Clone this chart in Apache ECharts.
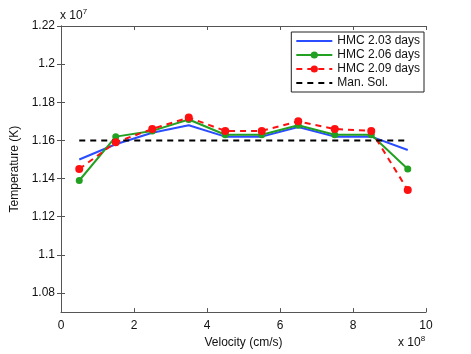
<!DOCTYPE html>
<html>
<head>
<meta charset="utf-8">
<script src="https://cdn.jsdelivr.net/npm/echarts@6/dist/echarts.min.js"></script>
<style>
  html, body { margin: 0; padding: 0; background: #fff; }
  #chart { width: 471px; height: 354px; }
</style>
</head>
<body>
<div id="chart"></div>
<script>
  // velocity in units of 1e8 cm/s, temperature in units of 1e7 K
  const velocity = [0.5, 1.5, 2.5, 3.5, 4.5, 5.5, 6.5, 7.5, 8.5, 9.5]
  const hmc203 = [1.150, 1.158, 1.164, 1.168, 1.162, 1.162, 1.167, 1.162, 1.162, 1.155]
  const hmc206 = [1.139, 1.162, 1.165, 1.171, 1.163, 1.163, 1.168, 1.163, 1.163, 1.145]
  const hmc209 = [1.145, 1.159, 1.166, 1.172, 1.165, 1.165, 1.170, 1.166, 1.165, 1.134]
  const manSol = [1.16, 1.16]
  const manSolX = [0.5, 9.5]
  const yTicks = [1.08, 1.1, 1.12, 1.14, 1.16, 1.18, 1.2, 1.22]

  const font = 'Liberation Sans, Arial, sans-serif'
  const axisColor = '#555'

  function pairs(xs, ys) {
    return xs.map((x, i) => [x, ys[i]])
  }

  let myChart = echarts.init(document.getElementById('chart'))
  myChart.setOption({
    animation: false,
    textStyle: { fontFamily: font },
    grid: { left: 61, right: 45, top: 26, bottom: 41, show: false },
    legend: {
      right: 47,
      top: 32,
      orient: 'vertical',
      backgroundColor: '#fff',
      borderColor: '#222',
      borderWidth: 1,
      borderRadius: 0,
      padding: [3, 4, 3, 4],
      itemGap: 2,
      itemWidth: 36,
      itemHeight: 9,
      textStyle: { fontSize: 12, color: '#111', fontFamily: font },
      data: [
        { name: 'HMC 2.03 days', itemStyle: { opacity: 0 } },
        { name: 'HMC 2.06 days' },
        { name: 'HMC 2.09 days' },
        { name: 'Man. Sol.', itemStyle: { opacity: 0 } }
      ]
    },
    xAxis: [{
      type: 'value',
      min: 0,
      max: 10,
      interval: 2,
      name: 'Velocity (cm/s)',
      nameLocation: 'middle',
      nameGap: 19,
      nameTextStyle: { fontSize: 12, color: '#111' },
      axisLine: { show: true, lineStyle: { color: axisColor } },
      axisTick: { show: true, inside: true, length: 4, lineStyle: { color: axisColor } },
      axisLabel: { fontSize: 12, color: '#111', margin: 8 },
      splitLine: { show: false }
    }, {
      type: 'value',
      position: 'top',
      min: 0,
      max: 10,
      interval: 2,
      axisLine: { show: true, lineStyle: { color: axisColor } },
      axisTick: { show: true, inside: true, length: 4, lineStyle: { color: axisColor } },
      axisLabel: { show: false },
      splitLine: { show: false }
    }],
    yAxis: [{
      type: 'value',
      min: 1.07,
      max: 1.22,
      name: 'Temperature (K)',
      nameLocation: 'middle',
      nameGap: 31,
      nameTextStyle: { fontSize: 12, color: '#111' },
      axisLine: { show: true, lineStyle: { color: axisColor } },
      axisTick: { show: true, inside: true, length: 4, customValues: yTicks, lineStyle: { color: axisColor } },
      axisLabel: {
        fontSize: 12, color: '#111', margin: 6, customValues: yTicks,
        formatter: function(v) { return String(parseFloat(v.toFixed(2))) }
      },
      splitLine: { show: false }
    }, {
      type: 'value',
      position: 'right',
      min: 1.07,
      max: 1.22,
      axisLine: { show: true, lineStyle: { color: axisColor } },
      axisTick: { show: true, inside: true, length: 4, customValues: yTicks, lineStyle: { color: axisColor } },
      axisLabel: { show: false },
      splitLine: { show: false }
    }],
    graphic: [{
      type: 'text',
      left: 60,
      top: 8,
      style: {
        text: '{a|x 10}{b|7}',
        rich: {
          a: { fontSize: 12, fontFamily: font, fill: '#111' },
          b: { fontSize: 8, fontFamily: font, fill: '#111', verticalAlign: 'top', padding: [0, 0, 8, 0] }
        }
      }
    }, {
      type: 'text',
      left: 398,
      top: 335,
      style: {
        text: '{a|x 10}{b|8}',
        rich: {
          a: { fontSize: 12, fontFamily: font, fill: '#111' },
          b: { fontSize: 8, fontFamily: font, fill: '#111', verticalAlign: 'top', padding: [0, 0, 8, 0] }
        }
      }
    }],
    series: [{
      name: 'HMC 2.03 days',
      type: 'line',
      showSymbol: false,
      symbol: 'none',
      color: '#2a4dff',
      lineStyle: { width: 2 },
      data: pairs(velocity, hmc203)
    }, {
      name: 'HMC 2.06 days',
      type: 'line',
      symbol: 'circle',
      symbolSize: 7,
      color: '#21a021',
      lineStyle: { width: 2 },
      data: pairs(velocity, hmc206)
    }, {
      name: 'HMC 2.09 days',
      type: 'line',
      symbol: 'circle',
      symbolSize: 8,
      color: '#ff1010',
      lineStyle: { width: 2, type: [6, 5] },
      data: pairs(velocity, hmc209)
    }, {
      name: 'Man. Sol.',
      type: 'line',
      symbol: 'none',
      color: '#000',
      lineStyle: { width: 2, type: [6, 5] },
      data: pairs(manSolX, manSol)
    }]
  })
</script>
</body>
</html>
